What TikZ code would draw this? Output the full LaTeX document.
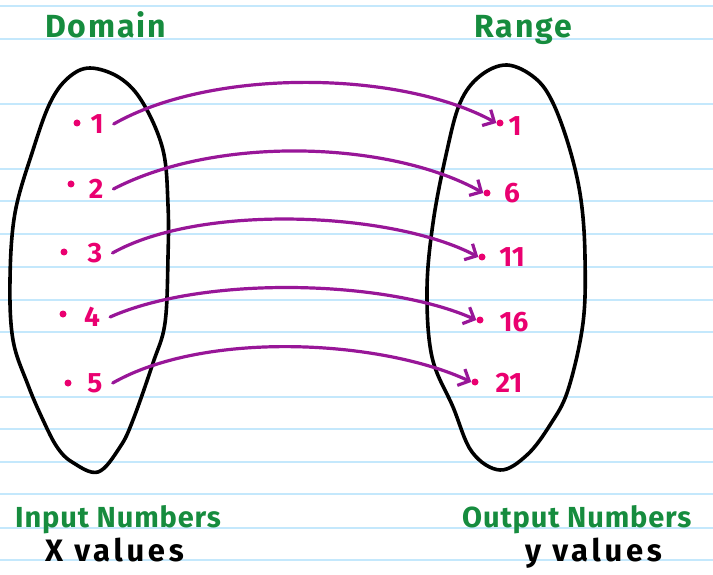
\documentclass[tikz,border=0pt]{standalone}
\usepackage{fontspec}
\setmainfont{Fira Sans}
\newfontfamily\penfont{Fira Sans}[LetterSpace=6]
\newfontfamily\labelfont{Fira Sans}[LetterSpace=3]
\newfontfamily\notefont{Fira Sans}[LetterSpace=12]
\usetikzlibrary{positioning,arrows.meta}
\definecolor{penGreen}{RGB}{22,140,62}
\definecolor{penPink}{RGB}{234,0,112}
\definecolor{penPurple}{RGB}{152,22,152}
\definecolor{paperLine}{RGB}{196,232,252}

\begin{document}
\begin{tikzpicture}[x=1pt,y=-1pt,
  head/.style={text=penGreen,font=\penfont\fontsize{32}{34}\selectfont\bfseries,anchor=base west,inner sep=0pt},
  title/.style={text=penGreen,font=\labelfont\fontsize{29}{31}\selectfont\bfseries,anchor=base west,inner sep=0pt},
  note/.style={text=black,font=\notefont\fontsize{31}{33}\selectfont\bfseries,anchor=base west,inner sep=0pt},
  num/.style={text=penPink,font=\fontsize{28}{30}\selectfont\bfseries,inner sep=2pt},
  dot/.style={circle,fill=penPink,inner sep=0pt,minimum size=7pt},
  blob/.style={black,line width=3.6pt,line join=round},
  map/.style={penPurple,line width=3.2pt,line cap=round,-{Straight Barb[length=9pt,width=18pt]}}]
\useasboundingbox (0,0) rectangle (713,575);
\fill[white] (0,0) rectangle (713,575);
% lined paper
\foreach \ly in {6,39,104,169,201,234,267,300,332,397,429,462,494,528,560}{ \draw[paperLine,line width=1.2pt] (0,\ly) -- (713,\ly);}
% headings
\node[head] (domain) at (45,38) {Domain};
\node[head] (range) at (474,38) {Range};
\node[title] (innum) at (15,527) {Input Numbers};
\node[note] (xval) at (45,561) {X values};
\node[title] (outnum) at (462,527) {Output Numbers};
\node[note] (yval) at (525,561) {y values};
% the two sets
\draw[blob] plot[smooth cycle,tension=0.6] coordinates {(90,68) (120,78) (143,103) (163,150) (168,205) (168,257) (165,323) (153,363) (133,420) (120,447) (98,472) (72,462) (57,447) (43,420) (28,385) (13,340) (10,280) (15,213) (33,150) (50,103) (68,78)};
\draw[blob] plot[smooth cycle,tension=0.6] coordinates {(507,65) (535,78) (553,103) (570,150) (581,200) (585,257) (583,323) (568,390) (550,425) (527,455) (500,470) (472,452) (453,407) (432,357) (427,290) (433,223) (446,155) (460,103) (480,76)};
% domain and range values
\foreach \i/\dx/\dy/\nx/\ny/\v in {1/77/123/97/124/1,2/71/184/96/189/2,3/64/252/95/253/3,4/63/314/92/317/4,5/68/383/95/383/5}{
  \node[dot] (ldot\i) at (\dx,\dy) {};
  \node[num] (in\i) at (\nx,\ny) {\v};}
\foreach \i/\dx/\dy/\nx/\ny/\v in {1/500/123/515/126/1,2/487/193/512/193/6,3/482/257/512/257/11,4/480/320/514/322/16,5/475/382/509/383/21}{
  \node[dot] (rdot\i) at (\dx,\dy) {};
  \node[num] (out\i) at (\nx,\ny) {\v};}
% mappings
\foreach \i/\ax/\ay/\bx/\by in {1/98/-56/-97/-53,2/104/-54/-93/-52,3/89/-50/-85/-45,4/95/-42/-90/-40,5/93/-53/-90/-42}{
  \draw[map] ([xshift=8pt]in\i.east) .. controls +(\ax,\ay) and +(\bx,\by) .. (rdot\i.west);}
\end{tikzpicture}
\end{document}
